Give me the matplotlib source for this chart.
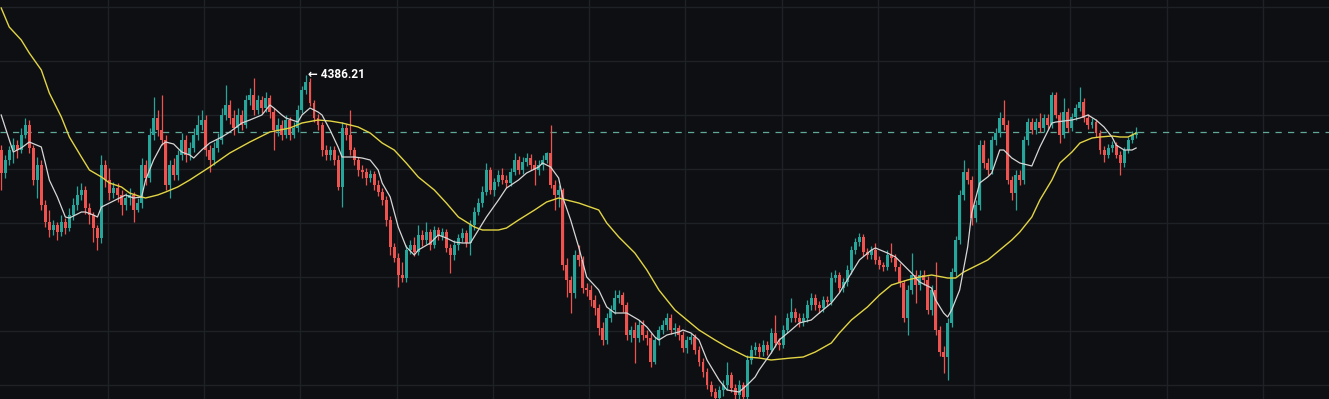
import numpy as np
import matplotlib
matplotlib.use("Agg")
from matplotlib import pyplot as plt

# hourly candles (open = previous close)
first_open = 4311
closes = [
    4288, 4301, 4311, 4316, 4311, 4326, 4336, 4313, 4281, 4296,
    4256, 4239, 4231, 4236, 4229, 4239, 4233, 4246, 4256, 4266,
    4271, 4253, 4246, 4233, 4223, 4296, 4281, 4268, 4273, 4266,
    4256, 4263, 4266, 4251, 4258, 4296, 4283, 4326, 4343, 4331,
    4321, 4276, 4296, 4286, 4306, 4321, 4306, 4313, 4326, 4336,
    4341, 4311, 4301, 4313, 4321, 4346, 4356, 4343, 4333, 4346,
    4336, 4361, 4366, 4351, 4361, 4353, 4363, 4349, 4331, 4336,
    4326, 4341, 4326, 4333, 4351, 4371, 4379, 4358, 4343, 4336,
    4311, 4306, 4311, 4301, 4274, 4333, 4326, 4311, 4301, 4291,
    4289, 4283, 4287, 4276, 4269, 4261, 4241, 4214, 4203, 4186,
    4183, 4211, 4216, 4209, 4226, 4221, 4229, 4216, 4231, 4225,
    4229, 4213, 4206, 4216, 4223, 4228, 4218, 4236, 4249, 4258,
    4269, 4291, 4271, 4279, 4286, 4281, 4278, 4289, 4301, 4291,
    4299, 4303, 4296, 4291, 4296, 4301, 4308, 4276, 4266, 4271,
    4196, 4181, 4168, 4206, 4201, 4173, 4171, 4161, 4153, 4133,
    4121, 4143, 4151, 4163, 4166, 4156, 4126, 4131, 4123, 4136,
    4126, 4123, 4099, 4121, 4131, 4136, 4143, 4131, 4133, 4126,
    4113, 4121, 4124, 4111, 4099, 4089, 4076, 4069, 4063, 4071,
    4076, 4086, 4073, 4066, 4076, 4064, 4101, 4111, 4114, 4109,
    4116, 4111, 4128, 4118, 4116, 4131, 4143, 4149, 4143, 4139,
    4143, 4156, 4163, 4156, 4153, 4161, 4159, 4183, 4186, 4173,
    4179, 4191, 4211, 4219, 4224, 4209, 4206, 4211, 4201, 4196,
    4194, 4206, 4203, 4194, 4178, 4143, 4171, 4186, 4176, 4186,
    4181, 4151, 4171, 4131, 4109, 4104, 4138, 4189, 4221, 4266,
    4289, 4281, 4243, 4256, 4316, 4298, 4291, 4321, 4328, 4343,
    4336, 4281, 4268, 4286, 4281, 4321, 4339, 4331, 4339, 4333,
    4343, 4336, 4366, 4346, 4326, 4349, 4333, 4344, 4353, 4359,
    4343, 4336, 4339, 4328, 4311, 4306, 4313, 4316, 4306, 4298,
    4311, 4321, 4326, 4329,
]
highs = [
    4316, 4306, 4315, 4323, 4321, 4333, 4343, 4341, 4316, 4304,
    4301, 4261, 4251, 4241, 4239, 4246, 4243, 4253, 4263, 4275,
    4278, 4275, 4258, 4249, 4236, 4306, 4301, 4293, 4279, 4278,
    4271, 4268, 4273, 4269, 4263, 4303, 4301, 4333, 4364, 4351,
    4366, 4326, 4301, 4303, 4311, 4328, 4326, 4319, 4333, 4346,
    4351, 4346, 4316, 4319, 4328, 4353, 4376, 4361, 4351, 4353,
    4351, 4366, 4373, 4383, 4366, 4365, 4369, 4366, 4353, 4343,
    4341, 4346, 4344, 4339, 4356, 4375, 4386.21, 4383, 4361, 4347,
    4339, 4316, 4315, 4315, 4306, 4339, 4337, 4351, 4314, 4304,
    4296, 4293, 4291, 4290, 4281, 4273, 4265, 4245, 4218, 4208,
    4199, 4216, 4221, 4224, 4236, 4231, 4239, 4232, 4235, 4234,
    4233, 4232, 4217, 4221, 4227, 4233, 4231, 4241, 4254, 4263,
    4275, 4298, 4294, 4283, 4291, 4293, 4286, 4293, 4308, 4305,
    4304, 4308, 4307, 4301, 4301, 4306, 4309, 4336, 4281, 4276,
    4273, 4203, 4185, 4211, 4216, 4205, 4178, 4176, 4166, 4157,
    4139, 4148, 4156, 4171, 4171, 4169, 4159, 4135, 4139, 4141,
    4141, 4131, 4128, 4124, 4135, 4141, 4148, 4147, 4138, 4136,
    4130, 4125, 4128, 4127, 4115, 4103, 4093, 4080, 4073, 4075,
    4081, 4099, 4089, 4077, 4081, 4079, 4106, 4116, 4119, 4118,
    4121, 4120, 4133, 4146, 4123, 4136, 4148, 4163, 4153, 4148,
    4148, 4161, 4168, 4167, 4160, 4165, 4165, 4189, 4191, 4189,
    4183, 4196, 4215, 4223, 4228, 4227, 4213, 4215, 4218, 4205,
    4199, 4211, 4218, 4207, 4198, 4181, 4176, 4208, 4191, 4191,
    4191, 4185, 4176, 4199, 4135, 4115, 4143, 4193, 4225, 4271,
    4301, 4293, 4285, 4261, 4321, 4321, 4303, 4325, 4333, 4349,
    4361, 4341, 4285, 4291, 4291, 4325, 4343, 4343, 4343, 4348,
    4347, 4347, 4369, 4369, 4349, 4363, 4353, 4348, 4357, 4374,
    4363, 4347, 4343, 4342, 4331, 4315, 4317, 4320, 4319, 4310,
    4314, 4324, 4330, 4334,
]
lows = [
    4271, 4283, 4296, 4298, 4303, 4308, 4323, 4308, 4276, 4263,
    4251, 4234, 4224, 4226, 4221, 4225, 4227, 4230, 4241, 4251,
    4261, 4247, 4237, 4219, 4211, 4218, 4274, 4261, 4263, 4259,
    4246, 4251, 4256, 4239, 4249, 4253, 4276, 4279, 4321, 4325,
    4316, 4271, 4263, 4281, 4281, 4301, 4299, 4301, 4309, 4321,
    4331, 4305, 4289, 4296, 4309, 4317, 4341, 4337, 4326, 4329,
    4331, 4333, 4356, 4346, 4347, 4348, 4349, 4343, 4311, 4325,
    4321, 4323, 4321, 4323, 4329, 4348, 4367, 4355, 4339, 4331,
    4305, 4301, 4301, 4296, 4271, 4254, 4321, 4306, 4296, 4285,
    4283, 4276, 4279, 4271, 4265, 4256, 4235, 4206, 4199, 4174,
    4179, 4179, 4207, 4205, 4206, 4215, 4217, 4211, 4213, 4221,
    4221, 4209, 4188, 4201, 4211, 4219, 4214, 4206, 4231, 4246,
    4254, 4266, 4267, 4265, 4275, 4277, 4273, 4275, 4286, 4287,
    4287, 4295, 4291, 4276, 4286, 4291, 4298, 4273, 4251, 4254,
    4191, 4164, 4148, 4163, 4195, 4168, 4165, 4155, 4146, 4126,
    4116, 4117, 4139, 4147, 4158, 4149, 4121, 4119, 4098, 4119,
    4121, 4116, 4094, 4097, 4116, 4127, 4131, 4127, 4125, 4121,
    4109, 4108, 4117, 4107, 4095, 4084, 4072, 4065, 4056, 4057,
    4065, 4071, 4069, 4056, 4061, 4056, 4061, 4097, 4106, 4104,
    4105, 4106, 4108, 4114, 4111, 4113, 4128, 4139, 4139, 4134,
    4135, 4139, 4151, 4151, 4148, 4149, 4155, 4156, 4179, 4169,
    4169, 4175, 4187, 4207, 4215, 4205, 4202, 4202, 4197, 4192,
    4190, 4191, 4199, 4190, 4174, 4139, 4126, 4167, 4158, 4171,
    4176, 4147, 4146, 4126, 4105, 4088, 4081, 4134, 4185, 4217,
    4261, 4277, 4236, 4239, 4251, 4293, 4286, 4287, 4316, 4324,
    4331, 4277, 4261, 4251, 4276, 4277, 4316, 4327, 4327, 4329,
    4329, 4332, 4333, 4343, 4318, 4323, 4329, 4330, 4341, 4350,
    4339, 4332, 4333, 4324, 4307, 4299, 4303, 4309, 4303, 4286,
    4294, 4308, 4318, 4323,
]

# short moving average (white), sampled along the line
ma_fast_idx = [0, 3, 5, 7, 10, 11, 12, 14, 16, 17, 20, 21, 23, 24, 25, 27, 30, 31,
               33, 35, 36, 38, 40, 41, 43, 45, 47, 48, 50, 52, 55, 57, 60, 62, 65,
               67, 68, 70, 71, 74, 75, 77, 79, 80, 82, 84, 85, 88, 90, 92, 94, 95,
               97, 99, 101, 103, 104, 107, 109, 111, 113, 115, 117, 119, 121, 124,
               126, 129, 131, 134, 135, 137, 139, 140, 142, 144, 146, 149, 151, 153,
               156, 159, 161, 163, 164, 166, 169, 170, 172, 174, 176, 179, 181, 184,
               186, 188, 189, 192, 194, 197, 199, 202, 204, 207, 209, 212, 214, 217,
               218, 221, 223, 225, 227, 229, 232, 233, 235, 236, 237, 239, 241, 242,
               244, 246, 247, 249, 250, 252, 254, 257, 259, 262, 263, 267, 269, 271,
               273, 275, 277, 278, 280, 282, 283]
ma_fast = [4346, 4309, 4313, 4319, 4314, 4298, 4281, 4264, 4244, 4243, 4249, 4249,
           4246, 4244, 4254, 4258, 4264, 4266, 4263, 4264, 4281, 4301, 4316, 4319,
           4317, 4309, 4306, 4303, 4311, 4318, 4324, 4329, 4338, 4341, 4346, 4356,
           4353, 4346, 4343, 4339, 4346, 4353, 4349, 4346, 4331, 4314, 4304, 4304,
           4303, 4301, 4291, 4278, 4264, 4234, 4214, 4206, 4211, 4218, 4226, 4223,
           4219, 4218, 4218, 4231, 4244, 4261, 4273, 4281, 4288, 4294, 4298, 4294,
           4283, 4264, 4241, 4214, 4184, 4171, 4154, 4148, 4148, 4141, 4134, 4124,
           4121, 4126, 4129, 4131, 4128, 4121, 4101, 4081, 4071, 4069, 4076, 4084,
           4091, 4108, 4121, 4131, 4138, 4141, 4148, 4158, 4168, 4188, 4201, 4211,
           4213, 4208, 4204, 4196, 4188, 4179, 4173, 4161, 4148, 4144, 4151, 4171,
           4214, 4248, 4278, 4284, 4288, 4311, 4311, 4303, 4298, 4295, 4314, 4338,
           4339, 4341, 4343, 4346, 4341, 4334, 4324, 4316, 4311, 4311, 4313]

# long moving average (yellow)
ma_slow_idx = [0, 2, 5, 7, 10, 12, 15, 17, 20, 22, 25, 27, 30, 32, 35, 36, 39, 41,
               44, 47, 52, 57, 62, 67, 72, 75, 79, 82, 85, 89, 92, 95, 98, 101, 104,
               108, 111, 114, 118, 120, 124, 126, 129, 133, 136, 139, 141, 144, 149,
               151, 154, 158, 161, 164, 168, 171, 174, 178, 181, 184, 186, 189, 192,
               197, 200, 203, 207, 209, 212, 216, 219, 222, 226, 229, 232, 236, 238,
               240, 242, 246, 249, 252, 254, 257, 259, 262, 264, 267, 269, 272, 274,
               277, 279, 281, 283]
ma_slow = [4453, 4434, 4421, 4408, 4391, 4368, 4344, 4324, 4304, 4291, 4284, 4278,
           4274, 4268, 4264, 4263, 4266, 4269, 4274, 4281, 4294, 4308, 4319, 4329,
           4333, 4338, 4341, 4340, 4338, 4334, 4328, 4318, 4311, 4298, 4284, 4271,
           4258, 4244, 4234, 4231, 4231, 4233, 4241, 4251, 4259, 4263, 4261, 4258,
           4251, 4238, 4224, 4208, 4191, 4171, 4151, 4141, 4131, 4121, 4114, 4108,
           4104, 4103, 4101, 4103, 4104, 4109, 4118, 4128, 4141, 4154, 4166, 4176,
           4181, 4184, 4186, 4183, 4183, 4189, 4193, 4201, 4211, 4221, 4229, 4244,
           4261, 4281, 4298, 4309, 4318, 4323, 4324, 4325, 4324, 4324, 4328]

UP = "#26a69a"
DOWN = "#ef5350"
BG = "#0e0f12"
GRID = "#1e2126"

opens = [first_open] + closes[:-1]
n = len(closes)
idx = np.arange(n)
o = np.array(opens, dtype=float)
c = np.array(closes, dtype=float)
colors = [UP if cc >= oo else DOWN for oo, cc in zip(o, c)]

fig = plt.figure(figsize=(13.29, 3.99), dpi=100)
fig.patch.set_facecolor(BG)
ax = fig.add_axes([0, 0, 1, 1])
ax.set_facecolor(BG)

ax.set_xlim(-0.3, 331.1)
ax.set_ylim(4062, 4461)

# grid
for gy in [4400 + 54 * k for k in range(-6, 2)]:
    ax.axhline(gy, color=GRID, lw=1, zorder=0)
for gx in [26.6 + 24 * k for k in range(13)]:
    ax.axvline(gx, color=GRID, lw=1, zorder=0)

# candles
ax.vlines(idx, lows, highs, colors=colors, lw=0.9, zorder=2)
body_h = np.maximum(np.abs(c - o), 1.0)
ax.bar(idx, body_h, bottom=np.minimum(o, c), width=0.74, color=colors,
       linewidth=0, zorder=3)

# moving averages
ax.plot(ma_slow_idx, ma_slow, color="#e2d444", lw=1.0, zorder=4)
ax.plot(ma_fast_idx, ma_fast, color="#d6d6d6", lw=0.9, zorder=5)

# last price line
ax.axhline(closes[-1], color="#5fa89a", lw=0.9, ls=(0, (5, 5)), zorder=1)

# high marker
hi = int(np.argmax(highs))
ax.annotate("\u2190 " + f"{highs[hi]:.2f}", xy=(hi, highs[hi]),
            xytext=(1.5, 0), textcoords="offset points", va="center",
            ha="left", color="white", fontsize=8.5, fontweight="bold",
            family=["Roboto", "DejaVu Sans"], zorder=6)

for s in ax.spines.values():
    s.set_visible(False)
ax.set_xticks([])
ax.set_yticks([])

fig.savefig("out.png", dpi=100, facecolor=BG)
